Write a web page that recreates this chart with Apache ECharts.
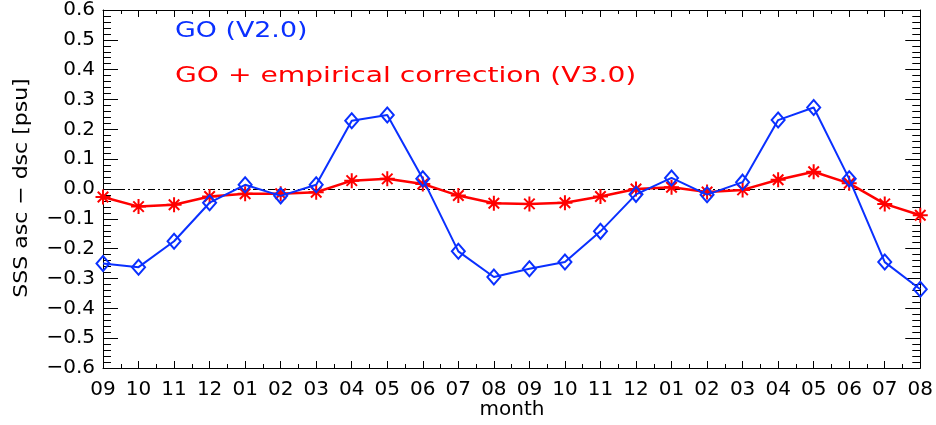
<!DOCTYPE html>
<html>
<head>
<meta charset="utf-8">
<script src="https://cdn.jsdelivr.net/npm/echarts@6/dist/echarts.min.js"></script>
<style>html,body{margin:0;padding:0;background:#fff}#c{width:936px;height:425px}</style>
</head>
<body>
<div id="c"></div>
<script>
var months = ['09','10','11','12','01','02','03','04','05','06','07','08','09','10','11','12','01','02','03','04','05','06','07','08'];
var goV2 = [-0.250,-0.262,-0.175,-0.046,0.014,-0.023,0.014,0.229,0.248,0.034,-0.209,-0.295,-0.267,-0.245,-0.142,-0.018,0.037,-0.019,0.023,0.231,0.273,0.034,-0.245,-0.336];
var goV3 = [-0.027,-0.059,-0.053,-0.025,-0.016,-0.016,-0.011,0.028,0.034,0.017,-0.022,-0.048,-0.050,-0.046,-0.025,0.000,0.006,-0.010,-0.003,0.031,0.058,0.019,-0.050,-0.088];
var yMin = -0.6, yMax = 0.6, yStep = 0.1;
var labelV2 = 'GO (V2.0)';
var labelV3 = 'GO + empirical correction (V3.0)';
var yTitle = 'SSS asc \u2212 dsc [psu]';
var xTitle = 'month';

var BLUE = '#0a30ff', RED = '#ff0000';
var FONT = 'DejaVu Sans';
var chart = echarts.init(document.getElementById('c'), null, {renderer: 'canvas'});

function yFmt(v) {
  if (Math.abs(v) < 1e-9) return '0.0';
  var s = Math.abs(v).toFixed(1);
  return v < 0 ? '\u2212' + s : s;
}
var axisLineStyle = {color: '#000', width: 1};
function xAxisDef(pos, showLabels) {
  return {
    type: 'value', position: pos, min: 0, max: months.length - 1, interval: 1,
    axisLine: {show: true, onZero: false, lineStyle: axisLineStyle},
    axisTick: {show: true, inside: true, length: 7, lineStyle: {color: '#000'}},
    minorTick: {show: true, splitNumber: 2, length: 4, lineStyle: {color: '#000'}},
    splitLine: {show: false},
    axisLabel: {show: showLabels, showMinLabel: true, showMaxLabel: true, hideOverlap: false,
      color: '#000', fontFamily: FONT, fontSize: 20, margin: 12,
      formatter: function (v) { return months[Math.round(v)]; }}
  };
}
function yAxisDef(pos, showLabels) {
  return {
    type: 'value', position: pos, min: yMin, max: yMax, interval: yStep,
    axisLine: {show: true, onZero: false, lineStyle: axisLineStyle},
    axisTick: {show: true, inside: true, length: 15, lineStyle: {color: '#000'}},
    minorTick: {show: true, splitNumber: 5, length: 8, lineStyle: {color: '#000'}},
    splitLine: {show: false},
    axisLabel: {show: showLabels, showMinLabel: true, showMaxLabel: true, hideOverlap: false,
      color: '#000', fontFamily: FONT, fontSize: 20, margin: 8, padding: [5, 0, 0, 0], formatter: yFmt}
  };
}

var option = {
  animation: false,
  backgroundColor: '#fff',
  grid: {left: 103, right: 14, top: 9, bottom: 57, containLabel: false},
  xAxis: [xAxisDef('bottom', true), xAxisDef('top', false)],
  yAxis: [yAxisDef('left', true), yAxisDef('right', false)],
  series: [
    {
      type: 'line', name: labelV3, xAxisIndex: 0, yAxisIndex: 0, z: 2,
      data: goV3.map(function (v, i) { return [i, v]; }),
      symbol: 'path://M0,5L10,5M5,0L5,10M1.5,1.5L8.5,8.5M8.5,1.5L1.5,8.5',
      symbolSize: 15,
      itemStyle: {color: RED, borderColor: RED, borderWidth: 2},
      lineStyle: {color: RED, width: 2.5},
      markLine: {
        silent: true, symbol: ['none', 'none'], label: {show: false},
        lineStyle: {color: '#000', width: 1, type: [7, 3, 2, 3]},
        data: [{yAxis: 0}], z: 1
      }
    },
    {
      type: 'line', name: labelV2, xAxisIndex: 0, yAxisIndex: 0, z: 3,
      data: goV2.map(function (v, i) { return [i, v]; }),
      symbol: 'diamond', symbolSize: [13, 15],
      itemStyle: {color: 'rgba(0,0,0,0)', borderColor: BLUE, borderWidth: 2},
      lineStyle: {color: BLUE, width: 2}
    }
  ],
  graphic: [
    {type: 'text', x: 175, y: 31, scaleX: 1.22, silent: true,
      style: {text: labelV2, fill: BLUE, font: '22px "' + FONT + '"', textAlign: 'left', textVerticalAlign: 'middle'}},
    {type: 'text', x: 175, y: 76, scaleX: 1.28, silent: true,
      style: {text: labelV3, fill: RED, font: '22px "' + FONT + '"', textAlign: 'left', textVerticalAlign: 'middle'}},
    {type: 'text', x: 22, y: 188, rotation: Math.PI / 2, scaleX: 1.1, silent: true,
      style: {text: yTitle, fill: '#000', font: '20px "' + FONT + '"', textAlign: 'center', textVerticalAlign: 'middle'}},
    {type: 'text', x: 512, y: 410, silent: true,
      style: {text: xTitle, fill: '#000', font: '20px "' + FONT + '"', textAlign: 'center', textVerticalAlign: 'middle'}}
  ]
};
chart.setOption(option);
</script>
</body>
</html>
